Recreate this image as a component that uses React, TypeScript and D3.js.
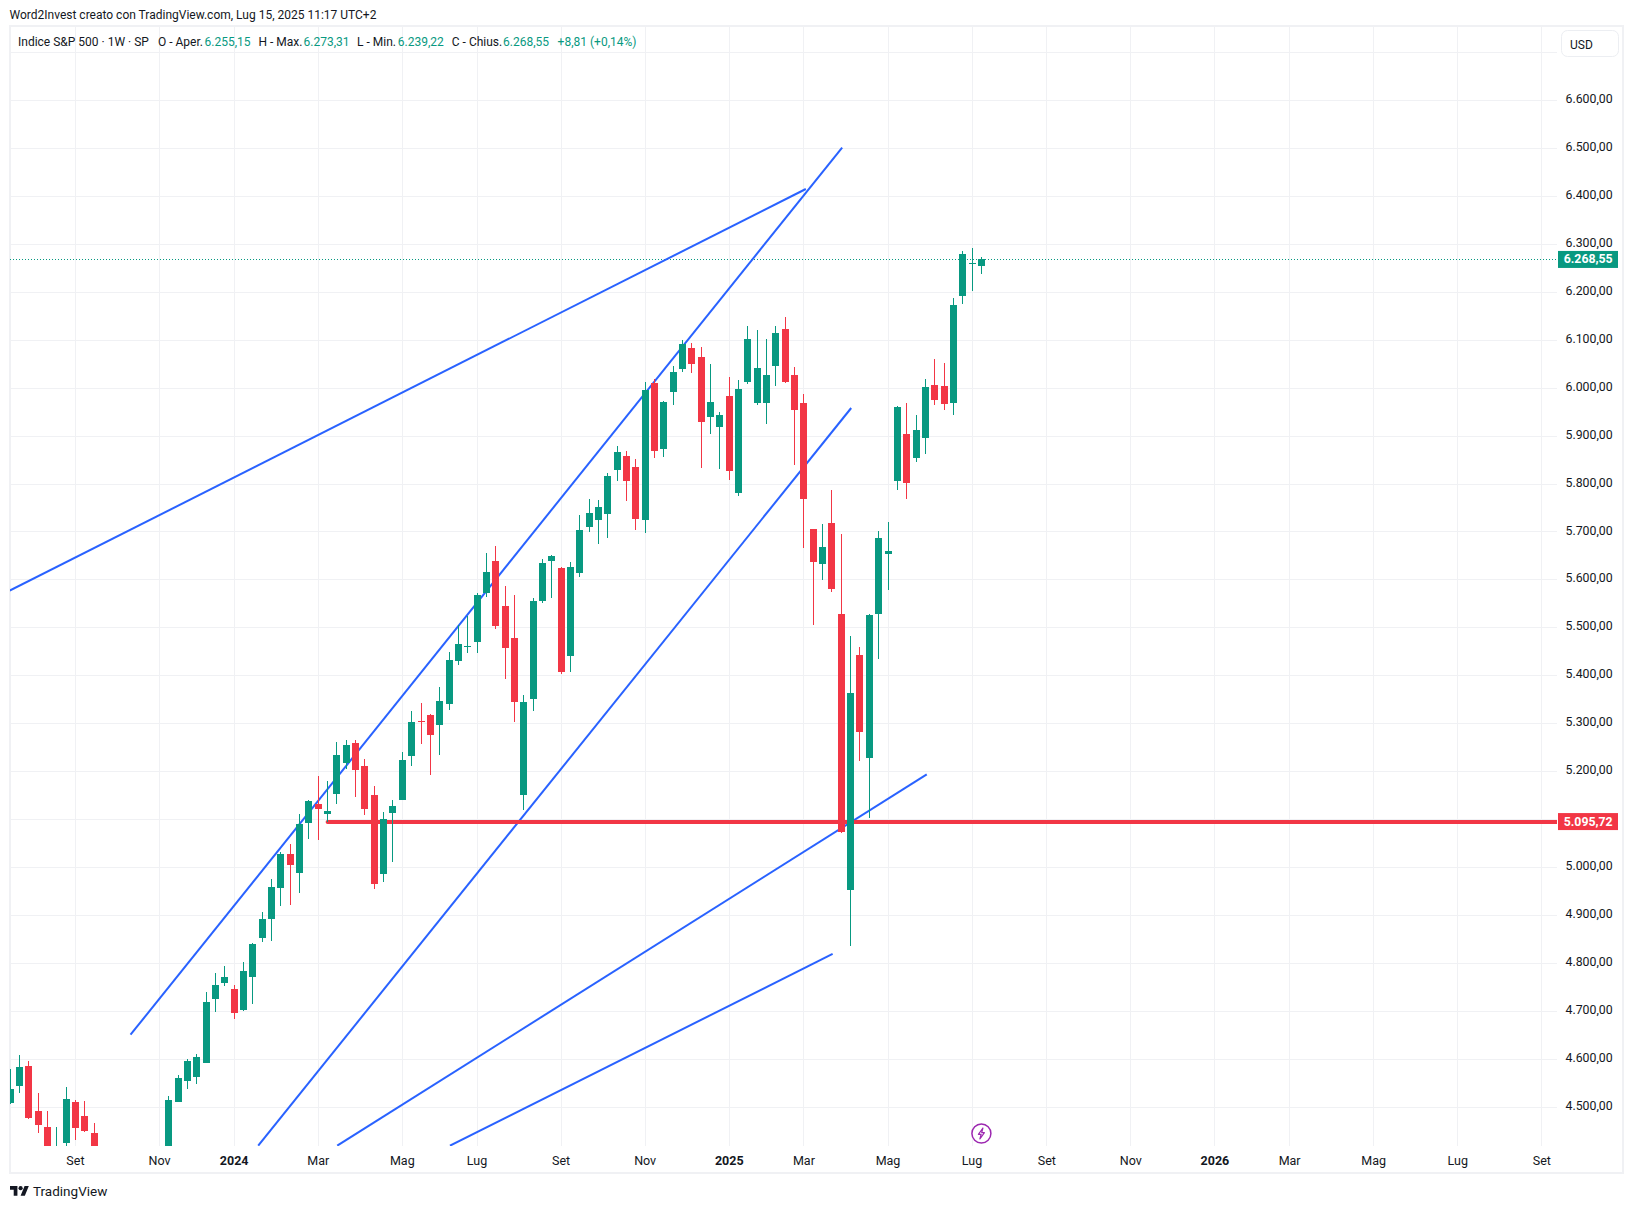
import React from 'react';
import * as d3 from 'd3';

// weekly candles, week of Jul 17 2023 to Jul 14 2025 (Oct 2023 sits below the visible pane)
const weeks = [
  ...d3.utcMonday.range(new Date(Date.UTC(2023, 6, 17)), new Date(Date.UTC(2023, 8, 25))),
  ...d3.utcMonday.range(new Date(Date.UTC(2023, 10, 13)), new Date(Date.UTC(2025, 6, 15))),
];

const opens = [4508, 4543, 4586, 4491, 4458, 4380, 4426, 4511, 4481, 4445,
  4406, 4511, 4554, 4563, 4592, 4726, 4759, 4746, 4703, 4771, 4853, 4892, 4957, 5028, 4988, 5093, 5132, 5112, 5153, 5218,
  5260, 5212, 5151, 4986, 5114, 5141, 5233, 5306, 5318, 5297, 5341, 5431, 5460, 5470, 5573, 5639, 5545, 5479, 5151, 5351,
  5556, 5639, 5625, 5441, 5614, 5710, 5725, 5737, 5829, 5858, 5836, 5725, 6011, 5873, 5992, 6040, 6084, 6065, 5940, 5919,
  5984, 5781, 6013, 5969, 5969, 6046, 6123, 6027, 5969, 5706, 5633, 5719, 5529, 4953, 5443, 5228, 5529, 5654, 5806, 5904,
  5854, 5896, 6007, 6004, 5969, 6192, 6259, 6255.15];
const highs = [4579, 4608, 4596, 4529, 4491, 4458, 4541, 4514, 4513, 4466,
  4523, 4568, 4600, 4611, 4740, 4780, 4794, 4755, 4803, 4842, 4907, 4976, 5032, 5049, 5112, 5141, 5191, 5180, 5262, 5266,
  5266, 5226, 5170, 5116, 5141, 5241, 5326, 5343, 5320, 5376, 5450, 5506, 5525, 5573, 5656, 5671, 5587, 5568, 5360, 5562,
  5644, 5652, 5626, 5637, 5735, 5769, 5767, 5823, 5879, 5869, 5852, 6013, 6019, 5973, 6046, 6100, 6094, 6086, 6050, 5950,
  6023, 6017, 6130, 6121, 6103, 6130, 6148, 6044, 5988, 5706, 5717, 5788, 5696, 5483, 5460, 5529, 5702, 5721, 5963, 5969,
  5944, 6019, 6061, 6052, 6188, 6286, 6292, 6273.31];
const lows = [4506, 4530, 4475, 4447, 4340, 4356, 4400, 4432, 4449, 4313,
  4406, 4511, 4538, 4548, 4592, 4698, 4753, 4684, 4700, 4715, 4844, 4847, 4920, 4922, 4947, 5059, 5057, 5095, 5132, 5205,
  5147, 5109, 4955, 4970, 5011, 5141, 5212, 5258, 5193, 5235, 5329, 5422, 5447, 5447, 5564, 5498, 5393, 5303, 5120, 5326,
  5552, 5562, 5404, 5408, 5606, 5700, 5675, 5687, 5806, 5765, 5704, 5698, 5854, 5856, 5965, 6034, 6032, 5833, 5904, 5831,
  5808, 5775, 6009, 5965, 5925, 6004, 6011, 5840, 5667, 5506, 5600, 5575, 5072, 4836, 5222, 5103, 5435, 5579, 5788, 5769,
  5846, 5863, 5965, 5954, 5944, 6176, 6203, 6239.22];
const closes = [4537, 4583, 4477, 4463, 4370, 4406, 4517, 4457, 4451, 4320,
  4515, 4561, 4596, 4605, 4719, 4755, 4771, 4696, 4784, 4840, 4892, 4959, 5028, 5005, 5091, 5139, 5122, 5118, 5235, 5255,
  5203, 5122, 4965, 5101, 5128, 5224, 5303, 5303, 5276, 5347, 5433, 5466, 5462, 5568, 5616, 5504, 5458, 5345, 5345, 5556,
  5635, 5650, 5408, 5627, 5704, 5740, 5752, 5817, 5867, 5806, 5727, 5996, 5869, 5971, 6034, 6092, 6050, 5929, 5971, 5944,
  5827, 5998, 6103, 6042, 6027, 6115, 6013, 5954, 5769, 5637, 5669, 5581, 5074, 5364, 5283, 5527, 5687, 5660, 5961, 5802,
  5913, 6002, 5975, 5967, 6173, 6280, 6261, 6268.55];

const priceTicks = [4500, 4600, 4700, 4800, 4900, 5000, 5100, 5200, 5300, 5400, 5500, 5600, 5700, 5800, 5900, 6000, 6100, 6200, 6300, 6400, 6500, 6600];
const timeTicks: [number, number, string][] = [
  [2023, 8, 'Set'], [2023, 10, 'Nov'], [2024, 0, '2024'], [2024, 2, 'Mar'], [2024, 4, 'Mag'], [2024, 6, 'Lug'],
  [2024, 8, 'Set'], [2024, 10, 'Nov'], [2025, 0, '2025'], [2025, 2, 'Mar'], [2025, 4, 'Mag'], [2025, 6, 'Lug'],
  [2025, 8, 'Set'], [2025, 10, 'Nov'], [2026, 0, '2026'], [2026, 2, 'Mar'], [2026, 4, 'Mag'], [2026, 6, 'Lug'], [2026, 8, 'Set'],
];

// hand drawn trend lines: [weeks from Jan 1 2024, price]
const trendLines = [
  [[-24.03, 5577.6], [61.2, 6415.5]],
  [[-11.1, 4651], [65.09, 6502]],
  [[2.57, 4419.5], [66.06, 5958.6]],
  [[11.03, 4419.5], [74.15, 5194.3]],
  [[23.1, 4419.5], [64.07, 4819.5]],
];
const lastPrice = 6268.55;
const levelPrice = 5095.72;
const levelStartWeek = 10;

const GREEN = '#089981';
const RED = '#F23645';
const BLUE = '#2962FF';
const GRID = '#f0f1f4';
const TEXT = '#131722';
const FONT = 'Roboto, "Noto Sans", sans-serif';

const pane = { left: 10, right: 1557, top: 26, bottom: 1146, outerRight: 1623, outerBottom: 1173 };

const weekDate = (n: number) => new Date(Date.UTC(2024, 0, 1) + n * 7 * 864e5);

const x = d3.scaleUtc().domain([weekDate(0), weekDate(140)]).range([234.2, 1541.8]);
const y = d3.scaleLinear().domain([4500, 6600]).range([1107.1, 100.58]);

const fmt = d3.formatLocale({ decimal: ',', thousands: '.', grouping: [3], currency: ['', ''] }).format(',.2f');

const snap = (v: number) => Math.floor(v) + 0.5;

// first Monday of the month is where TradingView puts the weekly tick
const tickDate = (yr: number, mo: number) => d3.utcMonday.ceil(new Date(Date.UTC(yr, mo, 1)));

const legend: [number, string, string][] = [
  [18, 'Indice S&P 500 · 1W · SP', TEXT],
  [158, 'O - Aper.', TEXT],
  [204.5, '6.255,15', GREEN],
  [258.5, 'H - Max.', TEXT],
  [303.6, '6.273,31', GREEN],
  [357, 'L - Min.', TEXT],
  [397.8, '6.239,22', GREEN],
  [451.8, 'C - Chius.', TEXT],
  [503, '6.268,55', GREEN],
  [557.6, '+8,81 (+0,14%)', GREEN],
];

const line = d3.line<number[]>().x(d => x(weekDate(d[0]))).y(d => y(d[1]));

const PriceTag = ({ price, color }: { price: number; color: string }) => (
  <g>
    <rect x={1558} y={y(price) - 8.5} width={60} height={17} fill={color} />
    <text x={1612.7} y={y(price) + 4} textAnchor="end" fontSize={12.3} fontWeight={700} fill="#fff">{fmt(price)}</text>
  </g>
);

const App = () => {
  const lastX = x(weeks[weeks.length - 1]);
  const levelY = Math.round(y(levelPrice));
  return (
    <svg width={1633} height={1209} style={{ position: 'absolute', left: 0, top: 0, background: '#fff' }} fontFamily={FONT}>
      <defs>
        <clipPath id="pane-clip">
          <rect x={pane.left} y={pane.top} width={pane.right - pane.left} height={pane.bottom - pane.top} />
        </clipPath>
      </defs>

      <text x={9.5} y={19} fontSize={12} fill={TEXT}>Word2Invest creato con TradingView.com, Lug 15, 2025 11:17 UTC+2</text>

      {/* frame */}
      <rect x={pane.left} y={pane.top} width={pane.outerRight - pane.left} height={pane.outerBottom - pane.top} fill="none" stroke={GRID} strokeWidth={2} />

      {/* grid */}
      {timeTicks.map(([yr, mo, label]) => (
        <line key={`${yr}-${mo}-${label}`} x1={snap(x(tickDate(yr, mo)))} x2={snap(x(tickDate(yr, mo)))} y1={pane.top} y2={pane.bottom} stroke={GRID} />
      ))}
      {[...priceTicks, 6700].map(p => (
        <line key={p} x1={pane.left} x2={pane.right} y1={snap(y(p))} y2={snap(y(p))} stroke={GRID} />
      ))}

      <g clipPath="url(#pane-clip)">
        <line x1={pane.left} x2={pane.right} y1={snap(y(lastPrice))} y2={snap(y(lastPrice))} stroke={GREEN} strokeDasharray="1 2" />
        {trendLines.map((t, i) => (
          <path key={i} d={line(t) ?? ''} fill="none" stroke={BLUE} strokeWidth={2} />
        ))}
        <line x1={x(weekDate(levelStartWeek))} x2={pane.right + 4} y1={levelY} y2={levelY} stroke={RED} strokeWidth={4} strokeLinecap="round" />

        {weeks.map((w, i) => {
          const cx = snap(x(w));
          const color = closes[i] >= opens[i] ? GREEN : RED;
          const top = y(Math.max(opens[i], closes[i]));
          const bottom = y(Math.min(opens[i], closes[i]));
          return (
            <g key={w.getTime()} fill={color} shapeRendering="crispEdges">
              <rect x={cx - 0.5} width={1} y={y(highs[i])} height={y(lows[i]) - y(highs[i])} />
              <rect x={cx - 3.5} width={7} y={top} height={Math.max(bottom - top, 1)} />
            </g>
          );
        })}
      </g>

      {/* legend */}
      {legend.map(([lx, label, color]) => (
        <text key={lx} x={lx} y={46} fontSize={12} fill={color}>{label}</text>
      ))}

      {/* currency button */}
      <rect x={1561.5} y={30.5} width={57} height={26} rx={6} fill="#fff" stroke="#eceef2" />
      <text x={1570} y={48.5} fontSize={12} fill={TEXT}>USD</text>

      {/* price axis, the level tag hides the tick right under it */}
      {priceTicks.filter(p => Math.abs(y(p) - y(levelPrice)) > 12).map(p => (
        <text key={p} x={1612.7} y={y(p) + 2.6} textAnchor="end" fontSize={12.3} fill={TEXT}>{fmt(p)}</text>
      ))}
      <PriceTag price={lastPrice} color={GREEN} />
      <PriceTag price={levelPrice} color={RED} />

      {/* time axis */}
      {timeTicks.map(([yr, mo, label]) => (
        <text key={`${yr}-${mo}-t`} x={x(tickDate(yr, mo))} y={1164.5} textAnchor="middle" fontSize={12.5} fontWeight={mo === 0 ? 700 : 400} fill={TEXT}>{label}</text>
      ))}

      {/* event marker */}
      <g transform={`translate(${lastX},1133.5)`}>
        <circle r={9.5} fill="#fff" stroke="#9c27b0" strokeWidth={1.5} />
        <path d="M1.5 -5.5 L-3 0.8 H-0.3 L-1.5 5.5 L3 -0.8 H0.3 Z" fill="none" stroke="#9c27b0" strokeWidth={1.2} strokeLinejoin="round" />
      </g>

      {/* logo */}
      <g transform="translate(10,1184) scale(0.53)" fill={TEXT}>
        <path d="M14 22H7V11H0V4h14v18zM28 22h-8l7.5-18h8L28 22z" />
        <circle cx={20} cy={8} r={4} />
      </g>
      <text x={33} y={1196} fontSize={13.5} fill={TEXT}>TradingView</text>
    </svg>
  );
};

export default App;
